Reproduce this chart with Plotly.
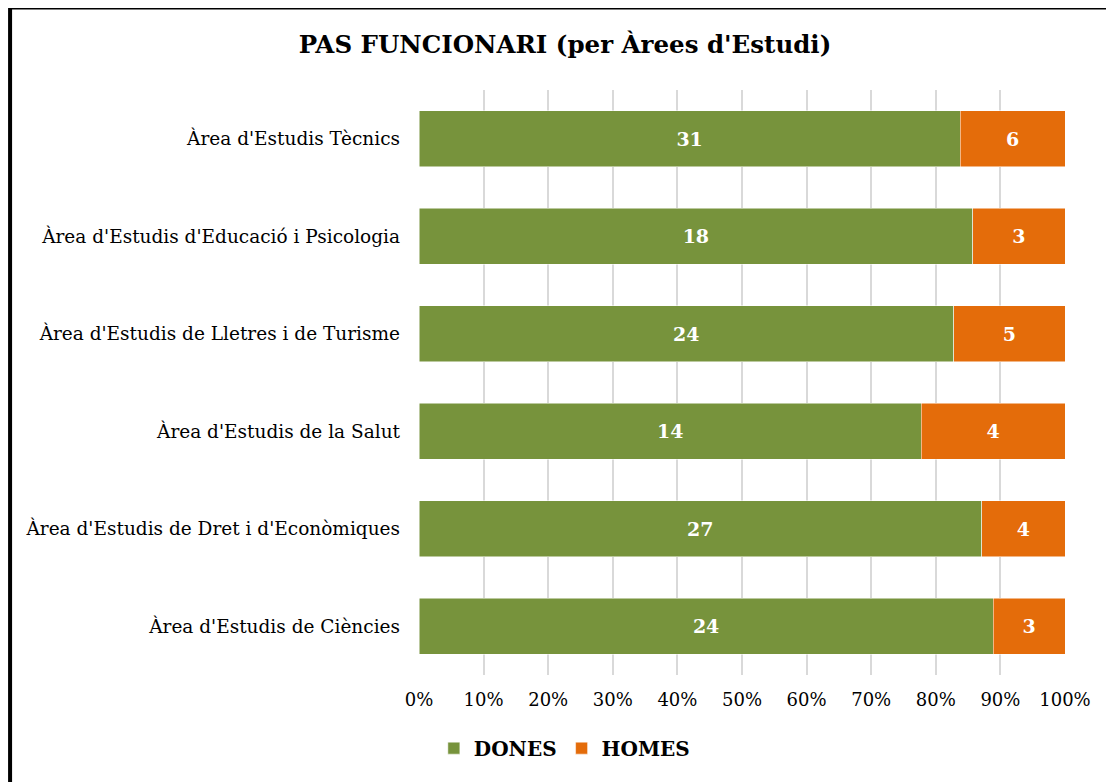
import plotly.graph_objects as go

categories = [
    "Àrea d'Estudis de Ciències",
    "Àrea d'Estudis de Dret i d'Econòmiques",
    "Àrea d'Estudis de la Salut",
    "Àrea d'Estudis de Lletres i de Turisme",
    "Àrea d'Estudis d'Educació i Psicologia",
    "Àrea d'Estudis Tècnics",
]
dones = [24, 27, 14, 24, 18, 31]
homes = [3, 4, 4, 5, 3, 6]

FONT = "DejaVu Serif"
GREEN = "#77933C"
ORANGE = "#E46C0A"

fig = go.Figure()

fig.add_trace(go.Bar(
    y=categories,
    x=dones,
    name="DONES",
    orientation="h",
    marker=dict(color=GREEN, line=dict(color="white", width=0.5)),
    text=dones,
    texttemplate="<b>%{text}</b>",
    textposition="inside",
    insidetextanchor="middle",
    textfont=dict(color="white", size=19, family=FONT),
))

fig.add_trace(go.Bar(
    y=categories,
    x=homes,
    name="HOMES",
    orientation="h",
    marker=dict(color=ORANGE, line=dict(color="white", width=0.5)),
    text=homes,
    texttemplate="<b>%{text}</b>",
    textposition="inside",
    insidetextanchor="middle",
    textfont=dict(color="white", size=19, family=FONT),
))

# chart frame (left/top edges visible, the rest runs off the canvas)
fig.add_shape(
    type="rect",
    xref="paper", yref="paper",
    x0=-0.633, x1=1.1,
    y0=-0.22, y1=1.141,
    line=dict(color="black", width=4),
    layer="below",
)

fig.update_layout(
    width=1114,
    height=782,
    barmode="stack",
    barnorm="percent",
    bargap=0.425,
    margin=dict(l=411, r=57, t=82, b=115),
    plot_bgcolor="white",
    paper_bgcolor="white",
    font=dict(family=FONT, size=18, color="black"),
    title=dict(
        text="<b>PAS FUNCIONARI (per Àrees d'Estudi)</b>",
        x=0.5, xref="container", xanchor="center",
        y=0.954, yref="container", yanchor="middle",
        font=dict(family=FONT, size=24.5, color="black"),
    ),
    showlegend=True,
    legend=dict(
        orientation="h",
        x=0.225, xanchor="center",
        y=-0.125, yanchor="middle",
        font=dict(family=FONT, size=20, color="black", weight="bold"),
        itemwidth=30,
        traceorder="normal",
    ),
    xaxis=dict(
        range=[0, 100],
        dtick=10,
        ticksuffix="%",
        showgrid=True,
        gridcolor="#D9D9D9",
        gridwidth=2,
        zeroline=False,
        showline=False,
        ticks="",
        ticklabelstandoff=12,
        tickfont=dict(size=18),
    ),
    yaxis=dict(
        showgrid=False,
        ticks="",
        ticklen=0,
        ticklabelstandoff=18,
        tickfont=dict(size=18.5),
    ),
)

fig.write_html("out.html")
